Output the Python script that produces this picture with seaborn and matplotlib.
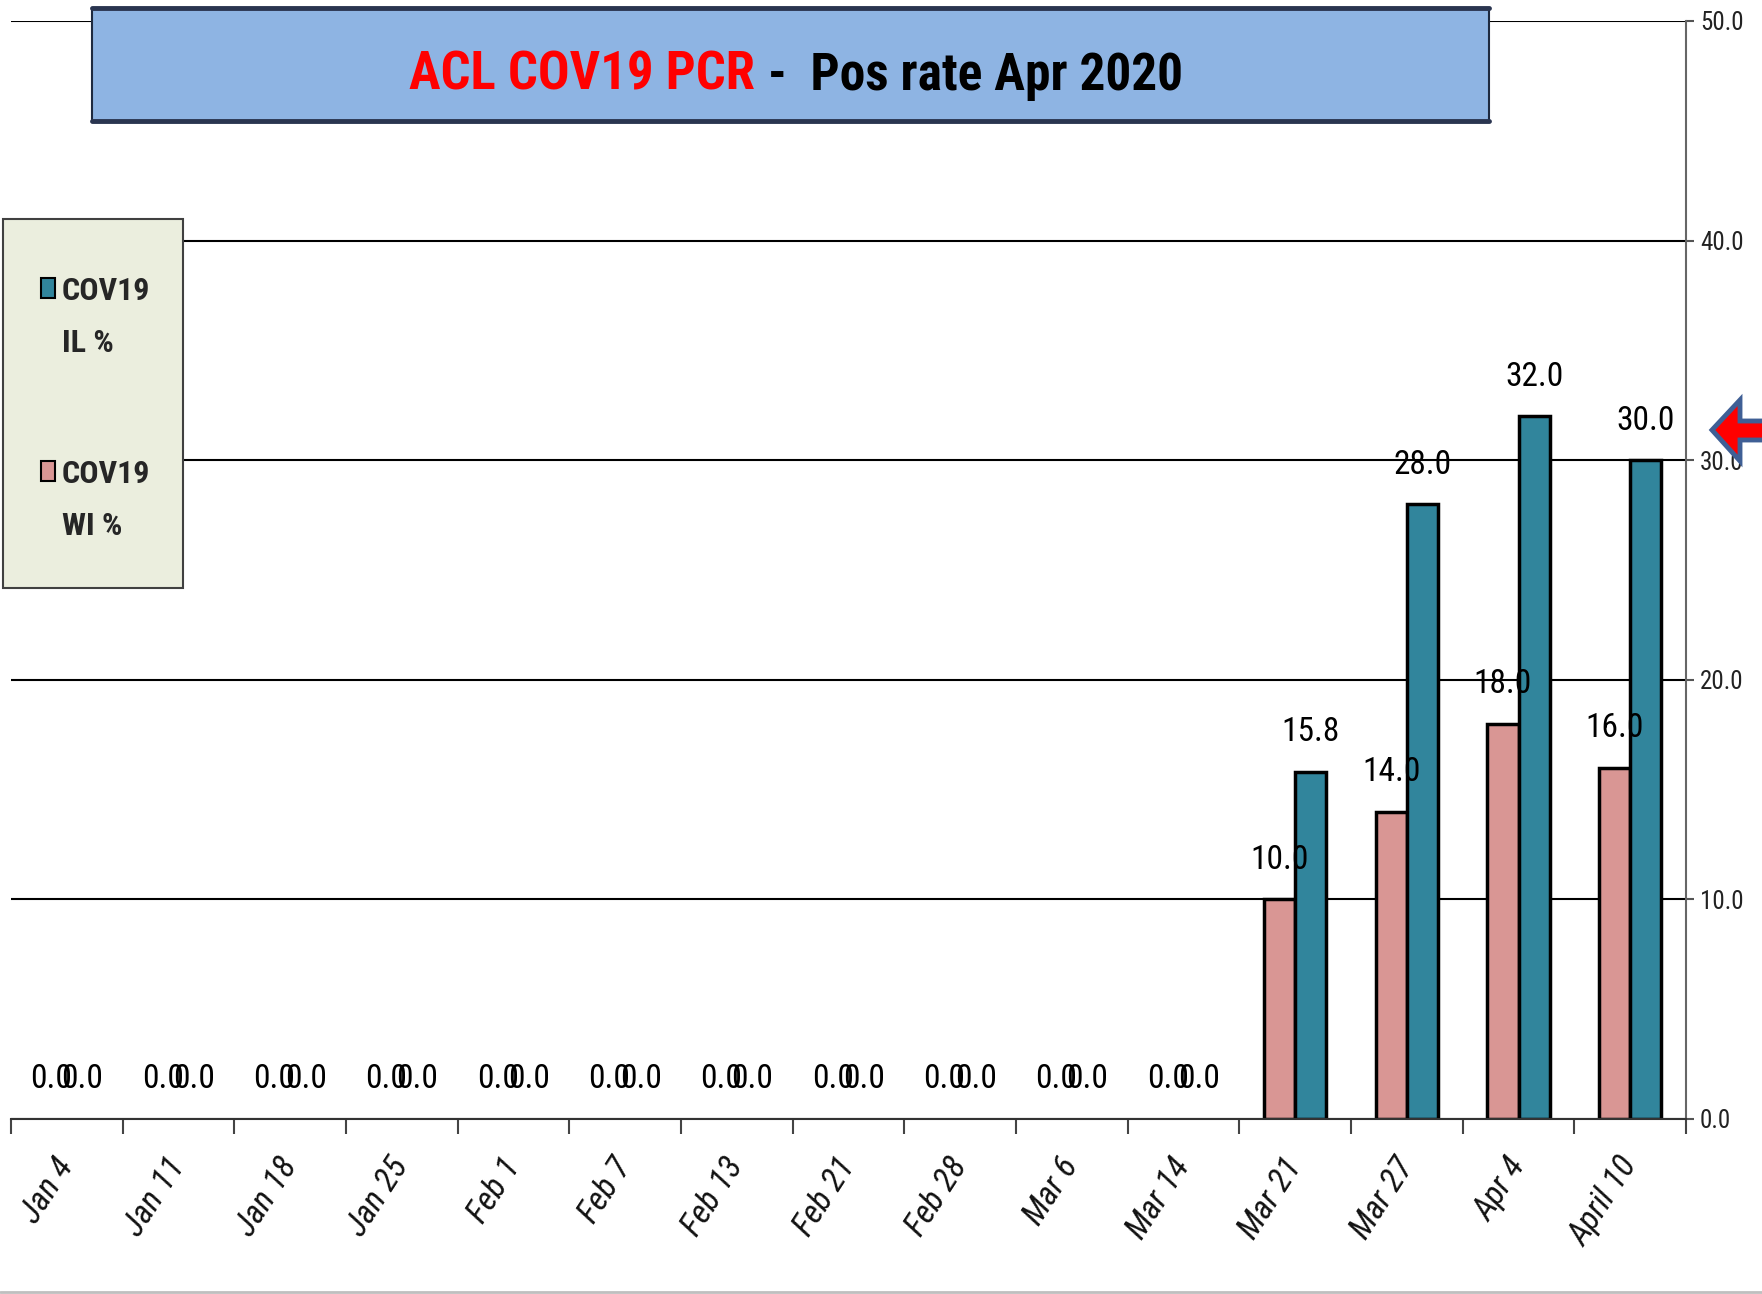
import numpy as np
import pandas as pd
import seaborn as sns
import matplotlib.pyplot as plt
import matplotlib.patches as mpatches
from matplotlib import font_manager
from matplotlib.lines import Line2D

# chart data
weeks = ['Jan 4', 'Jan 11', 'Jan 18', 'Jan 25', 'Feb 1', 'Feb 7', 'Feb 13', 'Feb 21',
         'Feb 28', 'Mar 6', 'Mar 14', 'Mar 21', 'Mar 27', 'Apr 4', 'April 10']
wi_pct = [0.0, 0.0, 0.0, 0.0, 0.0, 0.0, 0.0, 0.0, 0.0, 0.0, 0.0, 10.0, 14.0, 18.0, 16.0]
il_pct = [0.0, 0.0, 0.0, 0.0, 0.0, 0.0, 0.0, 0.0, 0.0, 0.0, 0.0, 15.8, 28.0, 32.0, 30.0]
series_names = ['COV19 WI %', 'COV19 IL %']
legend_order = ['COV19 IL %', 'COV19 WI %']
colors = {'COV19 WI %': '#D99694', 'COV19 IL %': '#31859C'}
y_ticks = [0, 10, 20, 30, 40, 50]
title_red = 'ACL COV19 PCR'
title_black = '-  Pos rate Apr 2020'

df = pd.DataFrame({
    'week': weeks * 2,
    'pct': wi_pct + il_pct,
    'series': [series_names[0]] * len(weeks) + [series_names[1]] * len(weeks),
})

sns.set_style('white')


# pick a narrow font family that is actually installed
def pick_font(candidates, style='normal', weight=400):
    for name in candidates:
        for f in font_manager.fontManager.ttflist:
            if f.name == name and f.style == style and abs(f.weight - weight) <= 100:
                return name
    return 'Liberation Sans'


narrow_list = ['Liberation Sans Narrow', 'Arial Narrow', 'Roboto Condensed', 'Archivo Narrow',
               'PT Sans Narrow', 'Encode Sans Condensed', 'Sofia Sans Condensed']
narrow = pick_font(narrow_list)
narrow_bold = pick_font(narrow_list, weight=700)
narrow_italic = pick_font(narrow_list, style='italic')
plt.rcParams['font.family'] = [narrow, 'DejaVu Sans']

W, H = 1762, 1294
fig = plt.figure(figsize=(W / 100, H / 100), dpi=100)
ax = fig.add_axes([11 / W, 1 - 1119 / H, (1686 - 11) / W, (1119 - 21) / H])

sns.barplot(data=df, x='week', y='pct', hue='series', hue_order=series_names, order=weeks,
            palette=colors, saturation=1, width=0.56, gap=0, edgecolor='black',
            linewidth=2.5, errorbar=None, legend=False, ax=ax)

# value labels
for p in ax.patches:
    h = p.get_height()
    if h == 0:
        p.set_linewidth(0)
    ax.annotate(f'{h:.1f}', (p.get_x() + p.get_width() / 2, h), xytext=(0, 17),
                textcoords='offset points', ha='center', va='bottom', fontsize=24,
                family=[narrow, 'DejaVu Sans'], color='black')

ax.set_ylim(0, 50)
ax.set_xlim(-0.5, len(weeks) - 0.5)
ax.set_xlabel('')
ax.set_ylabel('')
ax.set_yticks(y_ticks)
ax.set_yticklabels([f'{v:.1f}' for v in y_ticks])
ax.yaxis.tick_right()
ax.tick_params(axis='y', left=False, right=True, length=6, width=1.5, pad=4,
               labelsize=18, color='#555555', labelcolor='#222222')
ax.grid(axis='y', color='black', linewidth=1.5)
ax.set_axisbelow(True)

ax.set_xticks(range(len(weeks)))
ax.set_xticklabels(weeks, rotation=57, ha='right', va='center', rotation_mode='anchor',
                   fontstyle='italic', family=[narrow_italic, 'DejaVu Sans'], fontsize=24)
ax.tick_params(axis='x', which='major', bottom=True, length=0, pad=30, labelcolor='#111111')
ax.set_xticks(np.arange(-0.5, len(weeks), 1), minor=True)
ax.tick_params(axis='x', which='minor', bottom=True, length=11, width=1.5, color='#444444')

for s in ['left', 'top']:
    ax.spines[s].set_visible(False)
ax.spines['right'].set_color('#666666')
ax.spines['right'].set_linewidth(1.5)
ax.spines['bottom'].set_color('#333333')
ax.spines['bottom'].set_linewidth(1.5)

# title box
fig.add_artist(mpatches.Rectangle((92 / W, 1 - 121 / H), (1489 - 92) / W, (121 - 8) / H,
                                  transform=fig.transFigure, facecolor='#8EB4E3',
                                  edgecolor='#1E2A40', linewidth=1.5))
for yy in [8, 121]:
    fig.add_artist(Line2D([92 / W, 1489 / W], [1 - yy / H] * 2, color='#2A3550', linewidth=3.5))
fig.text(755 / W, 1 - 90 / H, title_red, color='#FF0000', fontsize=38, fontweight='bold',
         family=[narrow_bold, 'DejaVu Sans'], ha='right', va='baseline')
fig.text(768 / W, 1 - 90 / H, title_black, color='black', fontsize=37, fontweight='bold',
         family=[narrow_bold, 'DejaVu Sans'], ha='left', va='baseline')

# legend box
fig.add_artist(mpatches.Rectangle((3 / W, 1 - 588 / H), 180 / W, (588 - 219) / H,
                                  transform=fig.transFigure, facecolor='#EBEEDE',
                                  edgecolor='#404040', linewidth=1.5))
for name, base in zip(legend_order, [300, 483]):
    first, second = name.split(' ', 1)
    fig.add_artist(mpatches.Rectangle((41 / W, 1 - (base - 2) / H), 14 / W, 20 / H,
                                      transform=fig.transFigure, facecolor=colors[name],
                                      edgecolor='black', linewidth=1.5))
    fig.text(62 / W, 1 - base / H, first, fontsize=23, fontweight='bold',
             family=[narrow_bold, 'DejaVu Sans'], ha='left', va='baseline')
    fig.text(62 / W, 1 - (base + 52) / H, second, fontsize=23, fontweight='bold',
             family=[narrow_bold, 'DejaVu Sans'], ha='left', va='baseline')

# arrow on right edge
arrow_px = [(1712, 430), (1740, 400), (1740, 421), (1770, 421),
            (1770, 440), (1740, 440), (1740, 461)]
fig.add_artist(mpatches.Polygon([(x / W, 1 - y / H) for x, y in arrow_px], closed=True,
                                transform=fig.transFigure, facecolor='#FF0000',
                                edgecolor='#3F5F95', linewidth=3.5))

fig.add_artist(Line2D([0, 1], [1 - 1292 / H] * 2, color='#BFBFBF', linewidth=2))

fig.savefig('out.png', dpi=100)
